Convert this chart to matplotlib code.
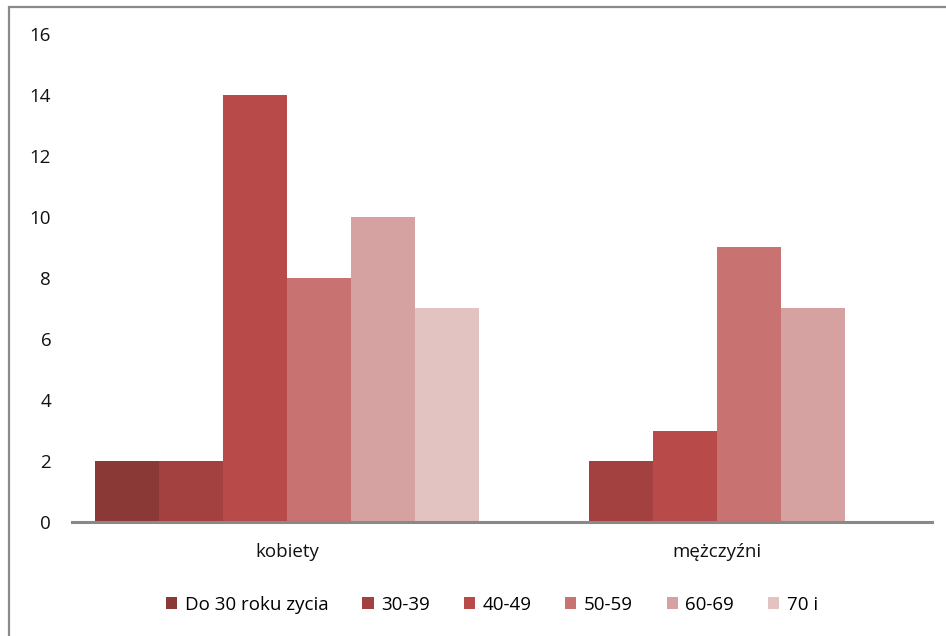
import matplotlib.pyplot as plt
from matplotlib.patches import Rectangle

groups = ['kobiety', 'mężczyźni']
series = ['Do 30 roku zycia', '30-39', '40-49', '50-59', '60-69', '70 i']
values = [
    [2, 0],
    [2, 2],
    [14, 3],
    [8, 9],
    [10, 7],
    [7, 0],
]
colors = ['#8B3937', '#A34140', '#B84A4A', '#C87272', '#D6A1A1', '#E2C3C2']

plt.rcParams['font.family'] = ['Open Sans', 'DejaVu Sans']

fig = plt.figure(figsize=(9.46, 6.36), dpi=100)
ax = fig.add_axes([72 / 946, 0.179, 860 / 946, 0.768])

w = 0.1485
for i, (name, vals) in enumerate(zip(series, values)):
    xs = [g + (i - 2.5) * w for g in range(len(groups))]
    ax.bar(xs, vals, width=w, color=colors[i], label=name, linewidth=0)

ax.set_xlim(-0.5, 1.5)
ax.set_ylim(0, 16)
ax.set_yticks(range(0, 17, 2))
ax.set_xticks(range(len(groups)))
ax.set_xticklabels(groups)
ax.tick_params(axis='both', length=0, labelsize=13.5, colors='#111111')
ax.tick_params(axis='y', pad=15)
ax.tick_params(axis='x', pad=15)
for s in ['top', 'right', 'left']:
    ax.spines[s].set_visible(False)
ax.spines['bottom'].set_color('#898989')
ax.spines['bottom'].set_linewidth(2.2)

fig.legend(loc='center', bbox_to_anchor=(0.52, 0.049), ncol=6, frameon=False,
           fontsize=13.5, handlelength=0.6, handleheight=0.6, handletextpad=0.4,
           columnspacing=1.8)

# ramka wykresu
fig.add_artist(Rectangle((9 / 946, -0.1), 1.2, 1 - 7 / 636 + 0.1,
                         transform=fig.transFigure, fill=False,
                         edgecolor='#8a8a8a', linewidth=1.6))

fig.savefig('out.png', dpi=100)
